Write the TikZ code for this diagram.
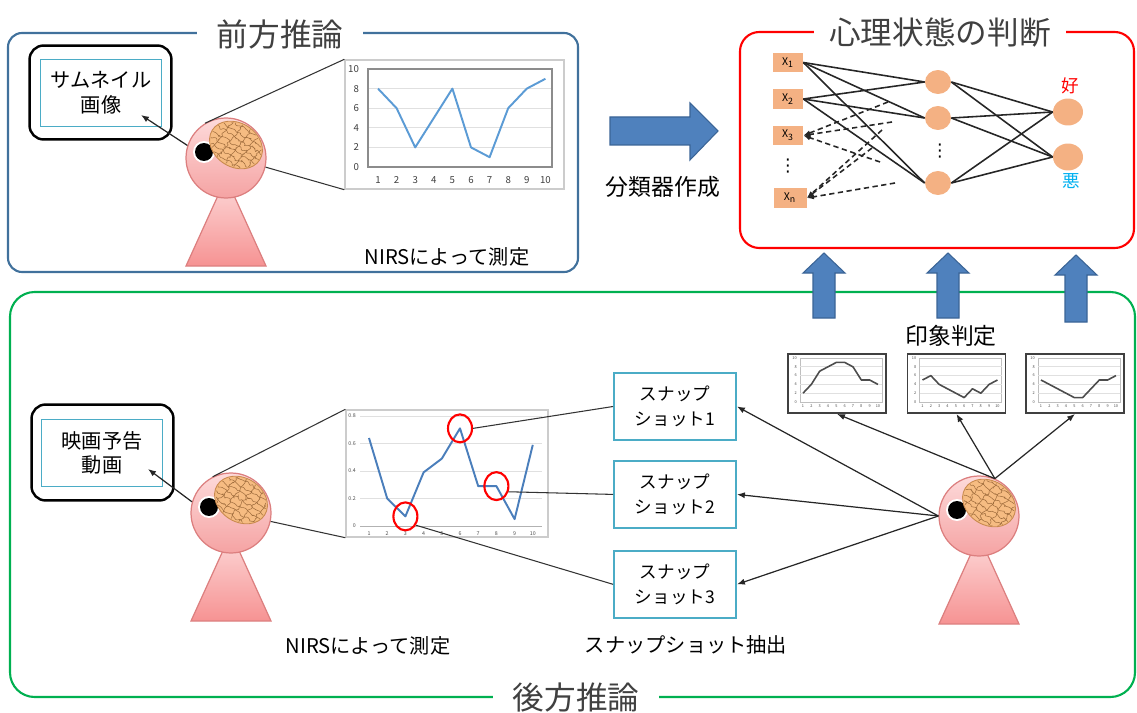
\documentclass[tikz,border=0pt]{standalone}
\usepackage{fontspec}
\setmainfont{Noto Sans CJK JP}
\newfontfamily\symfont{DejaVu Sans}
\usetikzlibrary{positioning, arrows.meta, shapes.geometric, decorations.pathmorphing, calc}

\definecolor{frontblue}{HTML}{41719C}
\definecolor{backgreen}{HTML}{00B050}
\definecolor{judgered}{HTML}{FF0000}
\definecolor{framecyan}{HTML}{4BACC6}
\definecolor{bigarrow}{HTML}{4F81BD}
\definecolor{bigarrowedge}{HTML}{3A6496}
\definecolor{unitfill}{HTML}{F4B183}
\definecolor{brainfill}{HTML}{F6BC82}
\definecolor{brainedge}{HTML}{C98A4E}
\definecolor{skinlight}{HTML}{FDDADA}
\definecolor{skindark}{HTML}{F5A3A3}
\definecolor{skinedge}{HTML}{DC7F7F}
\definecolor{nirsblue}{HTML}{5B9BD5}
\definecolor{nirsdark}{HTML}{4A7EBB}
\definecolor{goodcol}{HTML}{FF0000}
\definecolor{badcol}{HTML}{00B0F0}
\definecolor{titlegray}{HTML}{404040}

\tikzset{
  group/.style={line width=1.2pt},
  grouptitle/.style={fill=white, inner xsep=0.4cm, inner ysep=1pt, text=titlegray, font=\fontsize{18}{20}\selectfont},
  mediabox/.style={draw=framecyan, line width=1.1pt, minimum width=2.42cm, minimum height=1.34cm, align=center, font=\fontsize{11.5}{14}\selectfont},
  screen/.style={draw=black, line width=1.4pt, rounded corners=8pt},
  snapbox/.style={draw=framecyan, line width=1.1pt, minimum width=2.44cm, minimum height=1.34cm, align=center, font=\fontsize{10}{14}\selectfont},
  textlabel/.style={font=\fontsize{11.5}{14}\selectfont},
  dots/.style={inner sep=0pt, font=\symfont\fontsize{10}{10}\selectfont},
  head/.style={circle, minimum size=1.6cm, inner sep=0pt, draw=skinedge, line width=0.7pt, top color=skinlight, bottom color=skindark},
  body/.style={draw=skinedge, line width=0.7pt, top color=skinlight, bottom color=skindark!90!red},
  brain/.style={fill=brainfill, draw=brainedge, line width=0.5pt},
  brainfold/.style={draw=brainedge!80!black, line width=0.3pt, rounded corners=0.5pt, decorate, decoration={random steps, segment length=1.4pt, amplitude=1pt}},
  chartframe/.style={draw=black!20, line width=0.8pt, fill=white, inner sep=0pt},
  miniframe/.style={draw=black!75, line width=1.1pt, fill=white, inner sep=0pt, minimum width=1.96cm, minimum height=1.18cm},
  gridline/.style={draw=black!12, line width=0.5pt},
  ticklabel/.style={font=\fontsize{5.5}{6}\selectfont, text=black!75, inner sep=1pt},
  tinytick/.style={font=\fontsize{3}{3}\selectfont, text=black!70, inner sep=0.5pt},
  minitick/.style={font=\fontsize{2.2}{2.2}\selectfont, text=black!70, inner sep=0.5pt},
  signal/.style={draw=nirsblue, line width=1.1pt, line join=round},
  miniline/.style={draw=black!70, line width=0.9pt, line join=round},
  pickring/.style={ellipse, draw=red, line width=1.2pt, minimum width=0.48cm, minimum height=0.56cm, inner sep=0pt},
  leader/.style={draw=black!80, line width=0.6pt},
  pointer/.style={draw=black!85, line width=0.7pt, -{Latex[length=4.5pt, width=3.5pt]}},
  inunit/.style={fill=unitfill, minimum width=0.6cm, minimum height=0.4cm, inner sep=0pt, font=\fontsize{6}{6}\selectfont},
  hidunit/.style={ellipse, fill=unitfill, minimum width=0.52cm, minimum height=0.48cm, inner sep=0pt},
  outunit/.style={ellipse, fill=unitfill, minimum width=0.6cm, minimum height=0.54cm, inner sep=0pt},
  synapse/.style={draw=black!85, line width=0.9pt},
  backprop/.style={draw=black!85, line width=0.9pt, dash pattern=on 3pt off 2pt, -{Latex[length=4pt, width=3pt]}},
  blockarrow/.style={fill=bigarrow, draw=bigarrowedge, line width=0.6pt},
  pics/person/.style={code={
    \path[body] (-40,108) -- (0,20) -- (40,108) -- cycle;
    \node[head] (-head) at (0,0) {};
    \fill[white] (-22,-6) circle (0.22cm);
    \fill[black] (-22,-6) circle (0.18cm);
    \begin{scope}[shift={(10,-13)}, rotate=-32]
      \path[brain] (0,0) ellipse (0.56cm and 0.44cm);
      \clip (0,0) ellipse (0.54cm and 0.42cm);
      \foreach \k in {-0.36,-0.24,...,0.37}
        \draw[brainfold] (-0.6cm,\k cm) -- (0.6cm,\k cm);
      \foreach \k in {-0.4,-0.2,...,0.41}
        \draw[brainfold] (\k cm,-0.45cm) -- (\k cm+0.1cm,0.45cm);
    \end{scope}
  }},
}

\begin{document}
\begin{tikzpicture}[x=0.02cm, y=-0.02cm]
  \useasboundingbox (0,0) rectangle (1137,713);

  % ---------- forward session ----------
  \draw[group, frontblue, rounded corners=8pt] (8,33) rectangle (578,272);
  \node[grouptitle] (fwdtitle) at (280,34) {前方推論};

  \node[mediabox] (thumb) at (101,93) {サムネイル\\画像};
  \draw[screen] ($(thumb.north west)+(-10,-13)$) rectangle ($(thumb.south east)+(9,12)$);

  \pic (p1) at (226,158) {person};

  % NIRS signal of the forward session
  \node[chartframe, minimum width=4.38cm, minimum height=2.58cm] (nirsA) at (454.5,124.5) {};
  \begin{scope}[shift={(368,167)}]
    \draw[gridline] \foreach \v in {2,4,6,8} {(0,{-9.8*\v}) -- (184,{-9.8*\v})};
    \draw[black!45, line width=0.6pt] (0,0) rectangle (184,-98);
    \foreach \v in {0,2,...,10}
      \node[ticklabel, anchor=east] at (-7,{-9.8*\v}) {\v};
    \foreach \i in {1,...,10}
      \node[ticklabel] at ({10+18.6*(\i-1)},13) {\i};
    \draw[signal] (10,{-9.8*8}) \foreach \v [count=\i] in {6,2,5,8,2,1,6,8,9} {-- ({10+18.6*\i},{-9.8*\v})};
  \end{scope}

  \draw[leader] (p1-head.121) -- (nirsA.north west);
  \draw[leader] (p1-head.-13) -- (nirsA.south west);
  \draw[pointer] (p1-head.162) -- ($(thumb.center)+(40,22)$);
  \node[textlabel] (nirsA-label) at (447,257) {NIRSによって測定};

  % classifier training
  \path[blockarrow] (610,117) -- (690,117) -- (690,103) -- (718,131) -- (690,160) -- (690,145) -- (610,145) -- cycle;
  \node[font=\fontsize{13}{15}\selectfont] (train) at (663,187) {分類器作成};

  % ---------- mental state network ----------
  \draw[group, judgered, rounded corners=11pt] (740,32) rectangle (1134,248);
  \node[grouptitle, inner xsep=0.3cm] (judgetitle) at (940,33) {心理状態の判断};

  \node[inunit] (x1) at (788,62.5) {X\textsubscript{1}};
  \node[inunit] (x2) at (788,99) {X\textsubscript{2}};
  \node[inunit] (x3) at (788,135.5) {X\textsubscript{3}};
  \node[dots] (xdots) at (788,166) {⋮};
  \node[inunit, minimum width=0.66cm] (xn) at (790,198) {X\textsubscript{n}};

  \node[hidunit] (h1) at (938,82) {};
  \node[hidunit] (h2) at (938,118) {};
  \node[dots] (hdots) at (940,151) {⋮};
  \node[hidunit] (h3) at (938,183) {};

  \node[outunit] (o1) at (1068,112) {};
  \node[outunit] (o2) at (1068,157) {};
  \node[text=goodcol, font=\fontsize{10}{12}\selectfont] (good) at (1070,86) {好};
  \node[text=badcol, font=\fontsize{10}{12}\selectfont] (bad) at (1071,181) {悪};

  \foreach \s in {x1,x2}
    \foreach \t in {h1,h2,h3}
      \draw[synapse] (\s.east) -- (\t.west);
  \foreach \s in {h1,h2,h3}
    \foreach \t in {o1,o2}
      \draw[synapse] (\s.east) -- (\t.west);

  % feedback towards the remaining inputs
  \coordinate (bp1) at (888,102);
  \coordinate (bp2) at (892,122);
  \coordinate (bp3) at (880,162);
  \coordinate (bp4) at (882,130);
  \coordinate (bp5) at (872,148);
  \coordinate (bp6) at (895,183);
  \foreach \c in {bp1,bp2,bp3}
    \draw[backprop] (\c) -- (x3.east);
  \foreach \c in {bp4,bp5,bp6}
    \draw[backprop] (\c) -- (xn.east);

  % ---------- backward session ----------
  \draw[group, backgreen, rounded corners=14pt] (10,292) rectangle (1135,697);
  \node[grouptitle] (bwdtitle) at (576,697) {後方推論};

  \node[mediabox] (video) at (102,453) {映画予告\\動画};
  \draw[screen] ($(video.north west)+(-9,-14)$) rectangle ($(video.south east)+(10,13)$);

  \pic (p2) at (231,513) {person};

  % NIRS signal of the backward session
  \node[chartframe, minimum width=4.04cm, minimum height=2.54cm] (nirsB) at (447,473.5) {};
  \begin{scope}[shift={(360,526)}]
    \draw[gridline] \foreach \k in {1,...,4} {(0,{-27.5*\k}) -- (182,{-27.5*\k})};
    \draw[black!30, line width=0.5pt] (0,0) -- (182,0);
    \foreach \v/\t in {0/0, 0.2/0.2, 0.4/0.4, 0.6/0.6, 0.8/0.8}
      \node[tinytick, anchor=east] at (-3,{-137.5*\v}) {\t};
    \foreach \i in {1,...,10}
      \node[tinytick] at ({9+18.2*(\i-1)},8) {\i};
    \draw[signal, draw=nirsdark] (9,{-137.5*0.64}) \foreach \v [count=\i] in {0.2,0.07,0.39,0.49,0.71,0.29,0.29,0.05,0.59} {-- ({9+18.2*\i},{-137.5*\v})};
    \node[pickring] (pick1) at ({9+18.2*5},{-137.5*0.71}) {};
    \node[pickring] (pick2) at ({9+18.2*7},{-137.5*0.29}) {};
    \node[pickring] (pick3) at ({9+18.2*2},{-137.5*0.07}) {};
  \end{scope}

  \draw[leader] (p2-head.117) -- (nirsB.north west);
  \draw[leader] (p2-head.-12) -- (nirsB.south west);
  \draw[pointer] (p2-head.164) -- ($(video.center)+(46,16)$);
  \node[textlabel] (nirsB-label) at (368,646) {NIRSによって測定};

  % snapshots taken at the marked points
  \node[snapbox] (snap1) at (675,406.5) {スナップ\\ショット1};
  \node[snapbox, below=0.38cm of snap1] (snap2) {スナップ\\ショット2};
  \node[snapbox, below=0.42cm of snap2] (snap3) {スナップ\\ショット3};
  \node[textlabel] (snap-label) at (686,645) {スナップショット抽出};

  \draw[leader] (pick1.east) -- (snap1.west);
  \draw[leader] (pick2.-25) -- (snap2.west);
  \draw[leader] (pick3.-40) -- (snap3.west);

  % impression ratings
  \foreach \n/\cx/\first/\rest in {1/837/2/{4,7,8,9,9,8,5,5,4}, 2/956.5/5/{6,4,3,2,1,3,2,4,5}, 3/1075/5/{4,3,2,1,1,3,5,5,6}} {
    \node[miniframe] (mini\n) at (\cx,383.5) {};
    \begin{scope}[shift={(\cx,383.5)}]
      \draw[black!25, line width=0.5pt] (-37,-25.5) rectangle (45,18.5);
      \draw[gridline] \foreach \v in {2,4,6,8} {(-37,{18.5-4.4*\v}) -- (45,{18.5-4.4*\v})};
      \draw[miniline] (-34,{18.5-4.4*\first}) \foreach \v [count=\i] in \rest {-- ({-34+8.33*\i},{18.5-4.4*\v})};
      \foreach \i in {1,...,10}
        \node[minitick] at ({-34+8.33*(\i-1)},23) {\i};
      \foreach \v in {0,2,...,10}
        \node[minitick, anchor=east] at (-39,{18.5-4.4*\v}) {\v};
    \end{scope}
  }
  \node[font=\fontsize{13}{15}\selectfont] (rating) at (951,336) {印象判定};

  \pic (p3) at (979,516) {person};
  \foreach \t in {snap1,snap2,snap3}
    \draw[pointer] (p3-head.west) -- (\t.east);
  \foreach \t in {mini1,mini2,mini3}
    \draw[pointer] (p3-head.67) -- (\t.south);

  % ratings feed the network
  \foreach \cx/\tip/\tail in {824/253/318, 948/253/318, 1076/255/322}
    \path[blockarrow] (\cx-11,\tail) -- (\cx-11,\tip+20) -- (\cx-21,\tip+20) -- (\cx,\tip) -- (\cx+21,\tip+20) -- (\cx+11,\tip+20) -- (\cx+11,\tail) -- cycle;
\end{tikzpicture}
\end{document}
